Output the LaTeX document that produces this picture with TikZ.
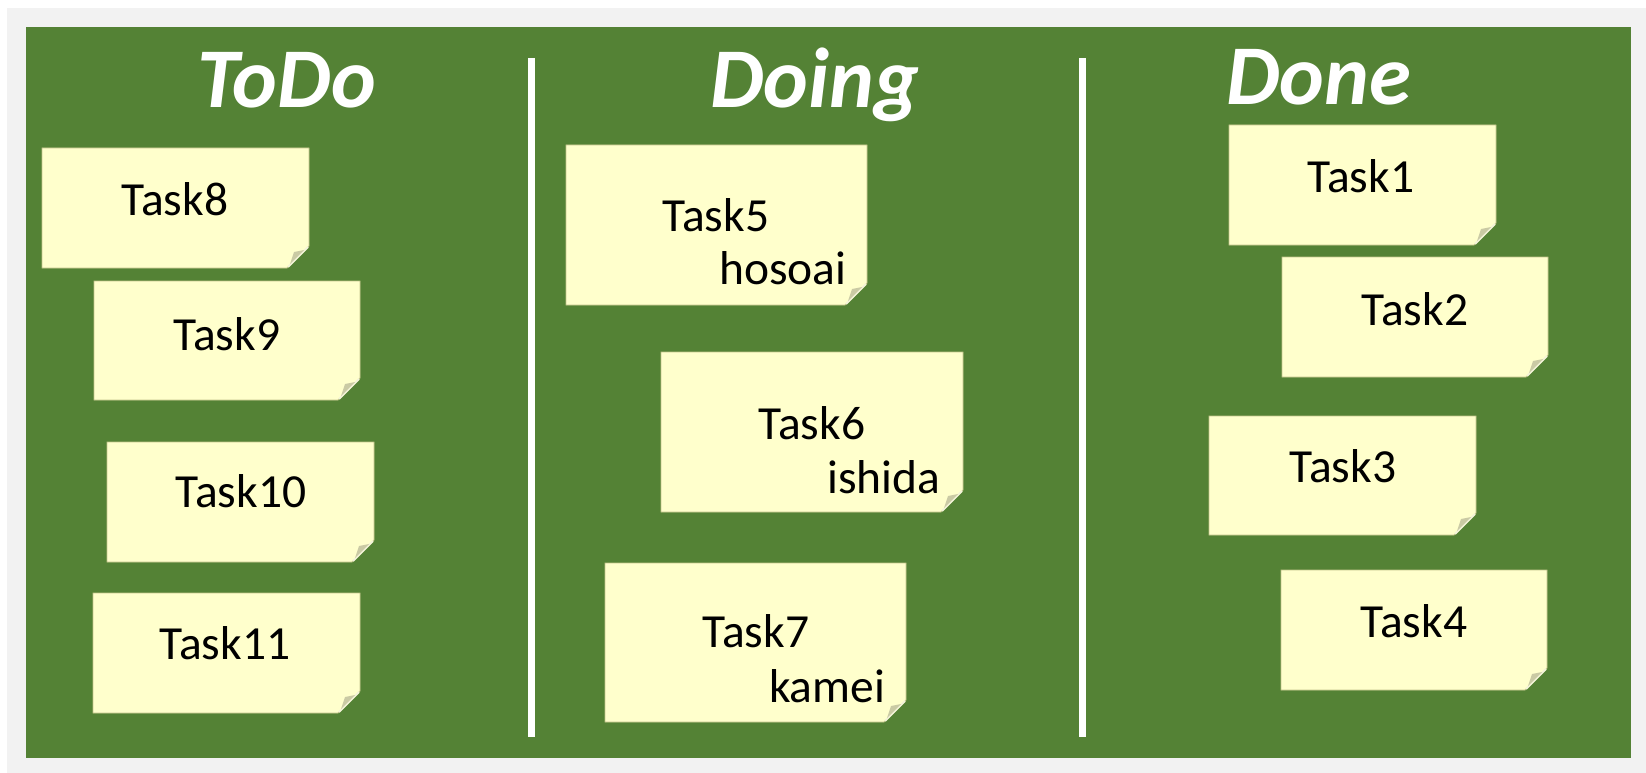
\documentclass[tikz,border=0pt]{standalone}
\usepackage{fontspec}
\setmainfont{Carlito}
\definecolor{board}{HTML}{548235}
\definecolor{paper}{HTML}{FFFFCC}
\definecolor{paperedge}{HTML}{C4C48C}
\definecolor{curl}{HTML}{CACAA4}
\definecolor{curledge}{HTML}{F4F4D8}
\definecolor{frame}{HTML}{F2F2F2}

% sticky note: #1 x1, #2 y1, #3 x2, #4 y2 (y grows downwards)
\newcommand\stickynote[4]{%
  \fill[paper, draw=paperedge, line width=0.8]
    (#1,#2) -- (#3,#2) -- (#3,{#4-22}) -- ({#3-22},#4) -- (#1,#4) -- cycle;
  \draw[curledge, line width=2] ({#3-1},{#4-21}) -- ({#3-21},{#4-1});
  \fill[curl] ({#3-19},{#4-4}) -- ({#3-15},{#4-16}) -- ({#3-5},{#4-18}) -- cycle;
}

\begin{document}
\begin{tikzpicture}[x=1pt, y=-1pt,
  head/.style={text=white, font=\fontsize{85}{95}\selectfont\bfseries\itshape,
               inner sep=0pt, anchor=base west},
  task/.style={text=black, font=\fontsize{47.5}{54}\selectfont,
               inner sep=0pt, anchor=base},
  divider/.style={white, line width=7}]
\useasboundingbox (0,0) rectangle (1646,773);
\fill[white] (0,0) rectangle (1646,773);
\fill[frame] (7,8) rectangle (1646,773);
\fill[board] (26,27) rectangle (1631,758);

% column dividers
\coordinate (d1top) at (531,58);
\coordinate (d1bot) at (531,737);
\coordinate (d2top) at (1082,58);
\coordinate (d2bot) at (1082,737);
\draw[divider] (d1top) -- (d1bot);
\draw[divider] (d2top) -- (d2bot);

% column headings
\node[head] (htodo)  at (197,108) {ToDo};
\node[head] (hdoing) at (710,108) {Doing};
\node[head] (hdone)  at (1226,105) {Done};

% ToDo column
\stickynote{42}{148}{309}{268}
\node[task] (t8) at (175,215) {Task8};
\stickynote{94}{281}{360}{400}
\node[task] (t9) at (227,350) {Task9};
\stickynote{107}{442}{374}{562}
\node[task] (t10) at (241,507) {Task10};
\stickynote{93}{593}{360}{713}
\node[task] (t11) at (225,659) {Task11};

% Doing column
\stickynote{566}{145}{867}{305}
\node[task] (t5) at (716,231) {Task5};
\node[task] (o5) at (783,284) {hosoai};
\stickynote{661}{352}{963}{512}
\node[task] (t6) at (812,439) {Task6};
\node[task] (o6) at (884,493) {ishida};
\stickynote{605}{563}{906}{722}
\node[task] (t7) at (756,647) {Task7};
\node[task] (o7) at (827,702) {kamei};

% Done column
\stickynote{1229}{125}{1496}{245}
\node[task] (t1) at (1361,192) {Task1};
\stickynote{1282}{257}{1548}{377}
\node[task] (t2) at (1415,325) {Task2};
\stickynote{1209}{416}{1476}{535}
\node[task] (t3) at (1343,482) {Task3};
\stickynote{1281}{570}{1547}{690}
\node[task] (t4) at (1414,637) {Task4};
\end{tikzpicture}
\end{document}
